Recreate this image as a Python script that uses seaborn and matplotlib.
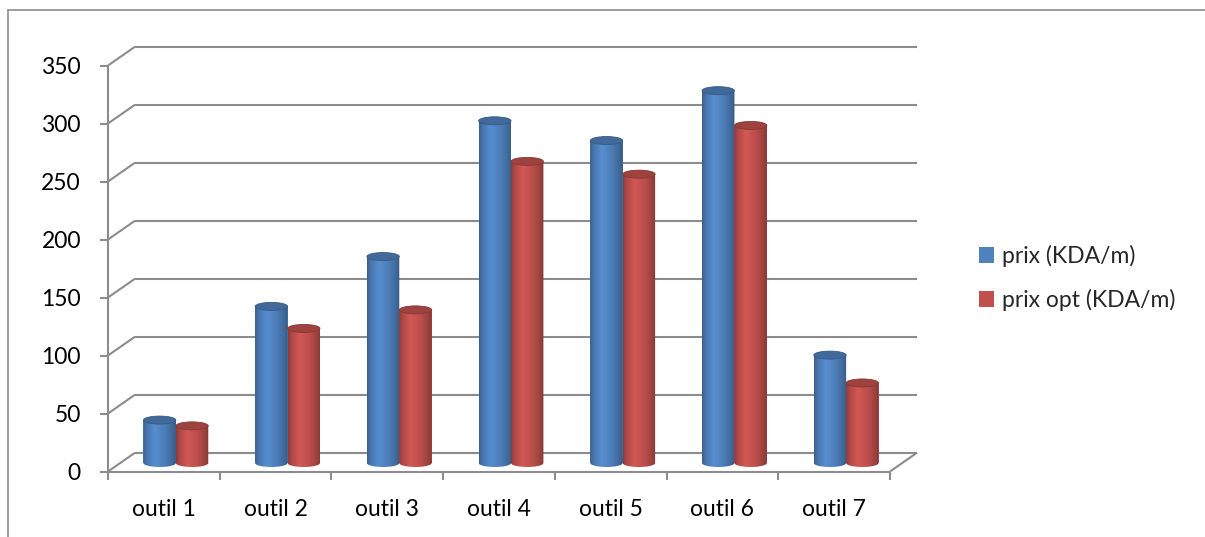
import numpy as np
import pandas as pd
import matplotlib
matplotlib.use("Agg")
import matplotlib.pyplot as plt
from matplotlib.path import Path
from matplotlib.patches import Ellipse
from matplotlib.lines import Line2D
from matplotlib.transforms import ScaledTranslation
from matplotlib.colors import to_rgb
import seaborn as sns

# ---- data -------------------------------------------------------------
outils = ["outil 1", "outil 2", "outil 3", "outil 4", "outil 5", "outil 6", "outil 7"]
prix = [37, 135, 178, 295, 278, 321, 93]
prix_opt = [32, 116, 132, 260, 249, 291, 69]
series = ["prix (KDA/m)", "prix opt (KDA/m)"]
series_colors = ["#4F81BD", "#C0504D"]
y_ticks = [0, 50, 100, 150, 200, 250, 300, 350]

# ---- style ------------------------------------------------------------
sns.set_theme(style="white")
plt.rcParams["font.family"] = ["Lato", "DejaVu Sans"]
FS = 16.5
GRID = "#8C8C8C"

W, H, DPI = 1205, 537, 100
fig = plt.figure(figsize=(W / DPI, H / DPI), dpi=DPI)
fig.patch.set_facecolor("white")

# the axes is the plane in which the cylinders stand (middle of the 3-D box);
# it reaches a little below zero so the rounded cylinder bases are not cut
PX_L, PX_R, PX_0, PX_TOP, PX_PAD = 120, 902, 463, 57, 14
ymax = y_ticks[-1]
px_y = (PX_0 - PX_TOP) / ymax           # pixels per value unit
px_x = (PX_R - PX_L) / len(outils)      # pixels per category
ax = fig.add_axes([PX_L / W, 1 - (PX_0 + PX_PAD) / H,
                   (PX_R - PX_L) / W, (PX_0 + PX_PAD - PX_TOP) / H])

df = pd.DataFrame({
    "outil": outils * 2,
    "valeur": prix + prix_opt,
    "serie": [series[0]] * len(outils) + [series[1]] * len(outils),
})
sns.barplot(data=df, x="outil", y="valeur", hue="serie", palette=series_colors,
            saturation=1, width=0.58, gap=0, linewidth=0, errorbar=None,
            ax=ax, zorder=2)

x0, x1 = -0.5, len(outils) - 0.5


def shift(dx, dy):
    return ScaledTranslation(dx / DPI, dy / DPI, fig.dpi_scale_trans)


# front face of the box, and depth of the box in data units
front = ax.transData + shift(-12, -8.5)
dx_b, dy_b = 27 / px_x, 18.8 / px_y

line_kw = dict(color=GRID, lw=1.5, clip_on=False, transform=front, zorder=0.5,
               solid_capstyle="butt")

# back-wall gridlines and side-wall diagonals
for v in y_ticks:
    ax.plot([x0 + dx_b, x1 + dx_b], [v + dy_b, v + dy_b], **line_kw)
    ax.plot([x0, x0 + dx_b], [v, v + dy_b], **line_kw)
# floor right edge
ax.plot([x1, x1 + dx_b], [0, dy_b], **line_kw)
# front axes
ax.plot([x0, x1], [0, 0], **line_kw)
ax.plot([x0, x0], [0, ymax], **line_kw)
# tick marks
for k in range(len(outils) + 1):
    ax.plot([x0 + k, x0 + k], [0, -8 / px_y], **line_kw)
for v in y_ticks:
    ax.plot([x0 - 8 / px_x, x0], [v, v], **line_kw)

# tick labels
for v in y_ticks:
    ax.text(x0, v, f"{v}", transform=front + shift(-27, 0), ha="right",
            va="center_baseline", fontsize=FS, color="black")
for i, name in enumerate(outils):
    ax.text(i, 0, name, transform=front + shift(0, -36), ha="center",
            va="center_baseline", fontsize=FS, color="black")

# cylinder shading on top of each seaborn bar
cap_h = 8 / px_y
prof_t = [0.0, 0.1, 0.35, 0.65, 0.88, 1.0]
prof_f = [0.74, 0.9, 1.1, 0.98, 0.82, 0.7]
tt = np.linspace(0, 1, 64)
ff = np.interp(tt, prof_t, prof_f)
for bar in list(ax.patches):
    x, w, h = bar.get_x(), bar.get_width(), bar.get_height()
    if w <= 0 or h <= 0:
        continue
    base = np.array(to_rgb(bar.get_facecolor()))
    grad = np.clip(base[None, :] * ff[:, None], 0, 1)[None, :, :]
    cx = x + w / 2
    theta = np.linspace(np.pi, 2 * np.pi, 40)
    arc = [(cx + w / 2 * np.cos(a), cap_h / 2 * np.sin(a)) for a in theta]
    verts = [(x, h), (x, 0)] + arc + [(x + w, h), (x, h)]
    codes = [Path.MOVETO] + [Path.LINETO] * (len(verts) - 2) + [Path.CLOSEPOLY]
    im = ax.imshow(grad, extent=(x, x + w, -cap_h, h), aspect="auto",
                   interpolation="bilinear", zorder=2.5)
    im.set_clip_path(Path(verts, codes), ax.transData)
    ax.add_patch(Ellipse((cx, h), w, cap_h, facecolor=np.clip(base * 0.82, 0, 1),
                         edgecolor=np.clip(base * 0.7, 0, 1), lw=0.6,
                         zorder=3, clip_on=False))

ax.set_xlim(x0, x1)
ax.set_ylim(-PX_PAD / px_y, ymax)
ax.set_xlabel("")
ax.set_ylabel("")
ax.set_xticks([])
ax.set_yticks([])
for s in ax.spines.values():
    s.set_visible(False)
ax.patch.set_alpha(0)

sns.move_legend(ax, "center left", bbox_to_anchor=(979 / W, 1 - 278 / H),
                bbox_transform=fig.transFigure, frameon=False, title=None,
                fontsize=FS, handlelength=0.66, handleheight=0.66,
                handletextpad=0.35, labelspacing=0.95, borderpad=0,
                borderaxespad=0)

# chart area border
fig.add_artist(Line2D([8 / W, 1], [1 - 10 / H, 1 - 10 / H], transform=fig.transFigure,
                      color=GRID, lw=1.2))
fig.add_artist(Line2D([8 / W, 8 / W], [0, 1 - 10 / H], transform=fig.transFigure,
                      color=GRID, lw=1.2))

fig.savefig("out.png", dpi=DPI, facecolor="white")
